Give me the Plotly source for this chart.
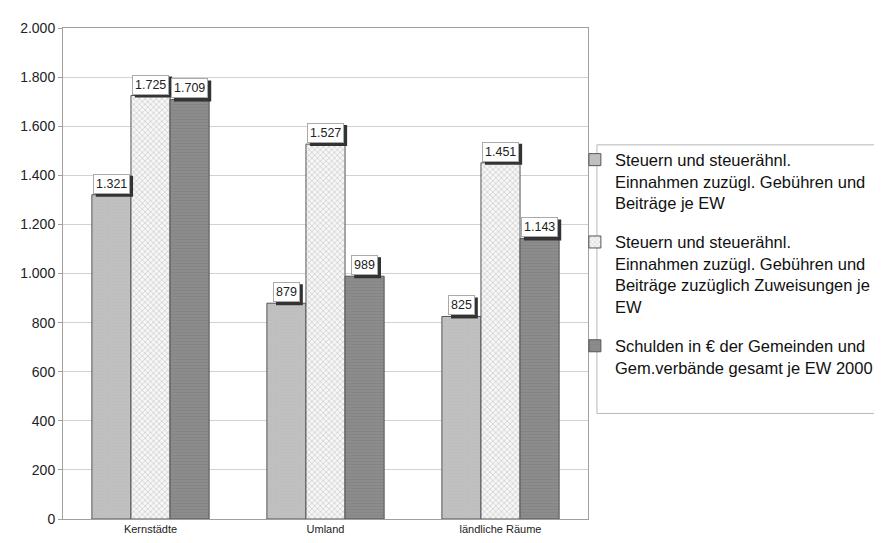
import plotly.graph_objects as go

categories = ["Kernstädte", "Umland", "ländliche Räume"]
series_names = [
    "Steuern und steuerähnl.<br>Einnahmen zuzügl. Gebühren und<br>Beiträge je EW",
    "Steuern und steuerähnl.<br>Einnahmen zuzügl. Gebühren und<br>Beiträge zuzüglich Zuweisungen je<br>EW",
    "Schulden in € der Gemeinden und<br>Gem.verbände gesamt je EW 2000",
]
steuern = [1321, 879, 825]
steuern_zuw = [1725, 1527, 1451]
schulden = [1709, 989, 1143]
value_labels = [["1.321", "879", "825"], ["1.725", "1.527", "1.451"], ["1.709", "989", "1.143"]]

series = [steuern, steuern_zuw, schulden]
colors = ["#bdbdbd", "#f4f4f4", "#878787"]
patterns = [
    dict(shape="."  , fgcolor="#b3b3b3", bgcolor="#c0c0c0", size=3, solidity=0.2),
    dict(shape="x", fgcolor="#b5b5b5", bgcolor="#f6f6f6", size=4, solidity=0.4),
    dict(shape="-", fgcolor="#7c7c7c", bgcolor="#8c8c8c", size=3, solidity=0.3),
]

FONT = "Liberation Sans, Arial, sans-serif"
fig = go.Figure()
for i, vals in enumerate(series):
    fig.add_trace(go.Bar(
        x=categories, y=vals, name=series_names[i],
        marker=dict(color=colors[i], line=dict(color="#555555", width=1), pattern=patterns[i]),
        legendgroup=f"g{i}",
    ))

bargap = 0.33
bw = (1 - bargap) / 3
annotations = []
shapes = []
LBL = 12.5
def text_w(s):
    return sum(0.278 if c == "." else 0.556 for c in s) * LBL

for i, vals in enumerate(series):
    for j, v in enumerate(vals):
        xpos = j + (i - 1) * bw
        w = text_w(value_labels[i][j]) + 6
        shapes.append(dict(type="rect", xref="x", yref="y", xsizemode="pixel", ysizemode="pixel",
                           xanchor=xpos, yanchor=v, x0=-w / 2 + 3, x1=w / 2 + 3, y0=-2, y1=19,
                           fillcolor="#333333", line=dict(width=0), layer="above"))
        annotations.append(dict(x=xpos, y=v, xref="x", yref="y", text=value_labels[i][j],
                                showarrow=False, yanchor="bottom", yshift=1,
                                font=dict(family=FONT, size=LBL, color="#222222"),
                                bgcolor="white", borderpad=2, borderwidth=1, bordercolor="#aaaaaa"))

shapes.append(dict(type="rect", xref="paper", yref="paper", x0=1.017, x1=1.56, y0=0.215, y1=0.762,
                   line=dict(color="#b8b8b8", width=1), fillcolor="rgba(0,0,0,0)", layer="below"))

fig.update_layout(
    width=882, height=543,
    margin=dict(l=52, r=297, t=16, b=32),
    paper_bgcolor="white", plot_bgcolor="white",
    barmode="group", bargap=bargap, bargroupgap=0,
    separators=",.",
    font=dict(family=FONT, size=12, color="#222222"),
    showlegend=True,
    legend=dict(x=0.975, y=0.767, xanchor="left", yanchor="top", valign="top",
                font=dict(family=FONT, size=16.5, color="#111111"),
                tracegroupgap=15, traceorder="grouped", itemwidth=30,
                bgcolor="rgba(0,0,0,0)", borderwidth=0),
    annotations=annotations,
    shapes=shapes,
)
fig.update_yaxes(range=[0, 2000], dtick=200, tickformat=",d",
                 showgrid=True, gridcolor="#d2d2d2", gridwidth=1,
                 showline=True, linecolor="#a0a0a0", mirror=True,
                 ticks="outside", ticklen=4, tickcolor="#a0a0a0",
                 tickfont=dict(family=FONT, size=14, color="#222222"))
fig.update_xaxes(showline=True, linecolor="#a0a0a0", mirror=True,
                 tickfont=dict(family=FONT, size=11, color="#222222"))

fig.write_html("out.html")
